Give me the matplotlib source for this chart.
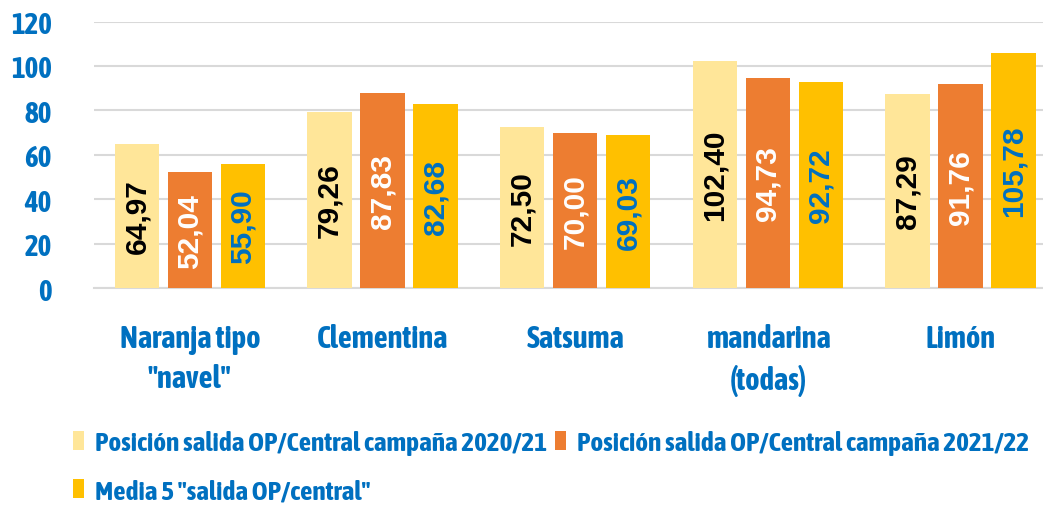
import matplotlib.pyplot as plt
from matplotlib import font_manager as fm
import numpy as np

# datos del gráfico
categorias = ['Naranja tipo\n"navel"', 'Clementina', 'Satsuma', 'mandarina\n(todas)', 'Limón']
camp_2020 = [64.97, 79.26, 72.50, 102.40, 87.29]
camp_2021 = [52.04, 87.83, 70.00, 94.73, 91.76]
media_5 = [55.90, 82.68, 69.03, 92.72, 105.78]
series_nombres = ['Posición salida OP/Central campaña 2020/21',
                  'Posición salida OP/Central campaña 2021/22',
                  'Media 5 "salida OP/central"']

colores = ['#FFE699', '#ED7D31', '#FFC000']
color_texto = ['black', 'white', '#0070C0']
azul = '#0070C0'


def buscar_condensada():
    # busca una fuente estrecha en negrita entre las instaladas
    cand = []
    for f in fm.fontManager.ttflist:
        w = f.weight if isinstance(f.weight, int) else 400
        if f.weight == 'bold':
            w = 700
        if 'ondensed' in f.name or 'Narrow' in f.name or f.stretch in ('condensed', 'semi-condensed'):
            cand.append((abs(w - 700), f.name, f.fname))
    cand.sort()
    if cand:
        return cand[0]
    return None


res = buscar_condensada()
if res:
    fp = lambda s: fm.FontProperties(fname=res[2], size=s)
else:
    fp = lambda s: fm.FontProperties(family='Roboto', weight='bold', size=s)

fig = plt.figure(figsize=(10.43, 5.10), dpi=100)
ax = fig.add_axes([0.0897, 0.4333, 0.9237, 0.5225])

x = np.arange(len(categorias))
ancho = 0.23
paso = 0.275

barras_all = []
for i, (vals, col) in enumerate(zip([camp_2020, camp_2021, media_5], colores)):
    pos = x + (i - 1) * paso
    barras = ax.bar(pos, vals, ancho, color=col, label=series_nombres[i], zorder=3)
    barras_all.append(barras)
    for p, v in zip(pos, vals):
        ax.text(p, v / 2, f'{v:.2f}'.replace('.', ','), rotation=90,
                ha='center', va='center', fontsize=21.5, fontweight='bold',
                family=['Liberation Sans', 'DejaVu Sans'], color=color_texto[i], zorder=4)

ax.set_xlim(-0.5, len(categorias) - 0.5)
ax.set_ylim(0, 120)
ax.set_yticks(range(0, 121, 20))
ax.set_xticks(x)
ax.set_xticklabels(categorias, color=azul, linespacing=1.4)
for t in ax.get_xticklabels():
    t.set_fontproperties(fp(22))
for t in ax.get_yticklabels():
    t.set_fontproperties(fp(21))
    t.set_color(azul)

ax.tick_params(axis='both', length=0)
ax.tick_params(axis='y', pad=30)
ax.tick_params(axis='x', pad=25)
ax.grid(axis='y', color='#D9D9D9', linewidth=1.5, zorder=0)
for s in ['top', 'right', 'left']:
    ax.spines[s].set_visible(False)
ax.spines['bottom'].set_color('#D9D9D9')
ax.spines['bottom'].set_linewidth(1.5)

# orden para que la fila 1 tenga las dos campañas
orden = [0, 2, 1]
fig.legend([barras_all[k] for k in orden], [series_nombres[k] for k in orden],
           loc='upper left', bbox_to_anchor=(0.07, 1 - 431 / 510), ncol=2,
           frameon=False, borderpad=0, borderaxespad=0,
           handlelength=0.4, handleheight=0.75, handletextpad=0.4,
           columnspacing=0.3, labelspacing=0.85,
           prop=fp(19.5), labelcolor=azul)

fig.savefig('out.png', dpi=100)
